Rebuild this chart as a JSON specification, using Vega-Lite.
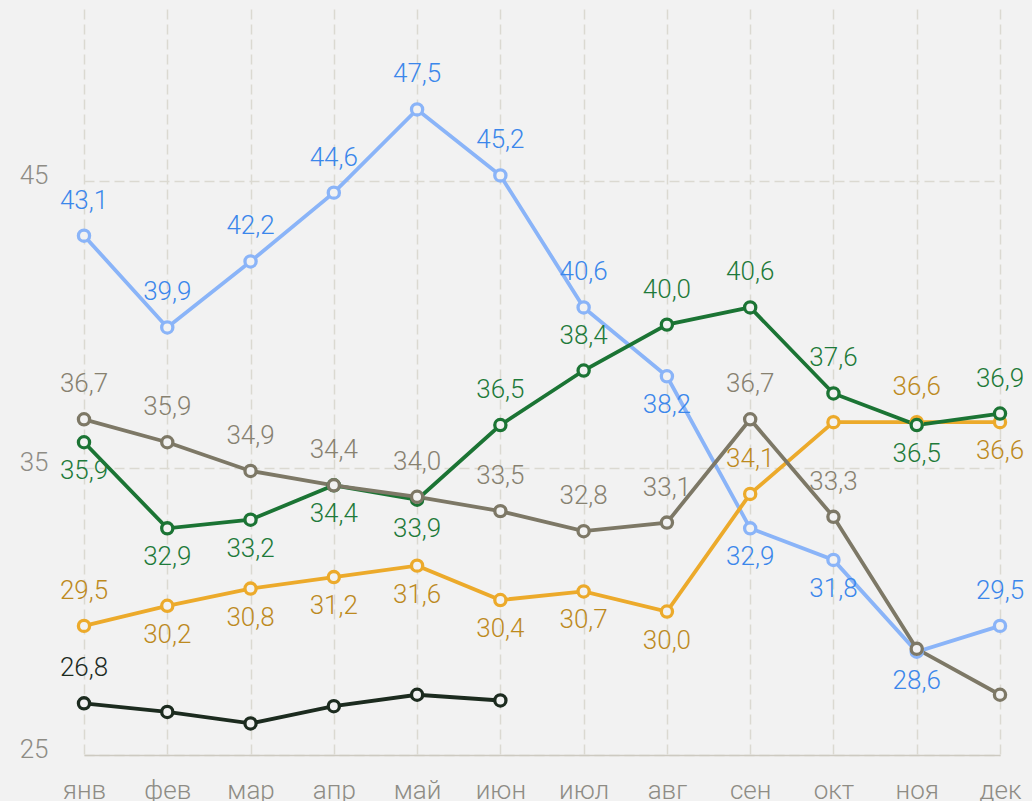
{
  "$schema": "https://vega.github.io/schema/vega-lite/v6.json",
  "width": 916,
  "height": 746,
  "autosize": {"type": "none"},
  "padding": {"left": 84, "top": 9, "right": 32, "bottom": 46},
  "background": "#f2f2f2",
  "config": {
    "view": {"stroke": null},
    "font": "Roboto",
    "locale": {"number": {"decimal": ",", "thousands": " ", "grouping": [3], "currency": ["", ""]}}
  },
  "data": {
    "values": [
      {"series": "Серия 1", "month": "янв", "value": 43.1, "labelSide": "above"},
      {"series": "Серия 1", "month": "фев", "value": 39.9, "labelSide": "above"},
      {"series": "Серия 1", "month": "мар", "value": 42.2, "labelSide": "above"},
      {"series": "Серия 1", "month": "апр", "value": 44.6, "labelSide": "above"},
      {"series": "Серия 1", "month": "май", "value": 47.5, "labelSide": "above"},
      {"series": "Серия 1", "month": "июн", "value": 45.2, "labelSide": "above"},
      {"series": "Серия 1", "month": "июл", "value": 40.6, "labelSide": "above"},
      {"series": "Серия 1", "month": "авг", "value": 38.2, "labelSide": "below"},
      {"series": "Серия 1", "month": "сен", "value": 32.9, "labelSide": "below"},
      {"series": "Серия 1", "month": "окт", "value": 31.8, "labelSide": "below"},
      {"series": "Серия 1", "month": "ноя", "value": 28.6, "labelSide": "below"},
      {"series": "Серия 1", "month": "дек", "value": 29.5, "labelSide": "above"},
      {"series": "Серия 2", "month": "янв", "value": 29.5, "labelSide": "above"},
      {"series": "Серия 2", "month": "фев", "value": 30.2, "labelSide": "below"},
      {"series": "Серия 2", "month": "мар", "value": 30.8, "labelSide": "below"},
      {"series": "Серия 2", "month": "апр", "value": 31.2, "labelSide": "below"},
      {"series": "Серия 2", "month": "май", "value": 31.6, "labelSide": "below"},
      {"series": "Серия 2", "month": "июн", "value": 30.4, "labelSide": "below"},
      {"series": "Серия 2", "month": "июл", "value": 30.7, "labelSide": "below"},
      {"series": "Серия 2", "month": "авг", "value": 30.0, "labelSide": "below"},
      {"series": "Серия 2", "month": "сен", "value": 34.1, "labelSide": "above"},
      {"series": "Серия 2", "month": "окт", "value": 36.6, "labelSide": "none"},
      {"series": "Серия 2", "month": "ноя", "value": 36.6, "labelSide": "above"},
      {"series": "Серия 2", "month": "дек", "value": 36.6, "labelSide": "below"},
      {"series": "Серия 3", "month": "янв", "value": 35.9, "labelSide": "below"},
      {"series": "Серия 3", "month": "фев", "value": 32.9, "labelSide": "below"},
      {"series": "Серия 3", "month": "мар", "value": 33.2, "labelSide": "below"},
      {"series": "Серия 3", "month": "апр", "value": 34.4, "labelSide": "below"},
      {"series": "Серия 3", "month": "май", "value": 33.9, "labelSide": "below"},
      {"series": "Серия 3", "month": "июн", "value": 36.5, "labelSide": "above"},
      {"series": "Серия 3", "month": "июл", "value": 38.4, "labelSide": "above"},
      {"series": "Серия 3", "month": "авг", "value": 40.0, "labelSide": "above"},
      {"series": "Серия 3", "month": "сен", "value": 40.6, "labelSide": "above"},
      {"series": "Серия 3", "month": "окт", "value": 37.6, "labelSide": "above"},
      {"series": "Серия 3", "month": "ноя", "value": 36.5, "labelSide": "below"},
      {"series": "Серия 3", "month": "дек", "value": 36.9, "labelSide": "above"},
      {"series": "Серия 4", "month": "янв", "value": 36.7, "labelSide": "above"},
      {"series": "Серия 4", "month": "фев", "value": 35.9, "labelSide": "above"},
      {"series": "Серия 4", "month": "мар", "value": 34.9, "labelSide": "above"},
      {"series": "Серия 4", "month": "апр", "value": 34.4, "labelSide": "above"},
      {"series": "Серия 4", "month": "май", "value": 34.0, "labelSide": "above"},
      {"series": "Серия 4", "month": "июн", "value": 33.5, "labelSide": "above"},
      {"series": "Серия 4", "month": "июл", "value": 32.8, "labelSide": "above"},
      {"series": "Серия 4", "month": "авг", "value": 33.1, "labelSide": "above"},
      {"series": "Серия 4", "month": "сен", "value": 36.7, "labelSide": "above"},
      {"series": "Серия 4", "month": "окт", "value": 33.3, "labelSide": "above"},
      {"series": "Серия 4", "month": "ноя", "value": 28.7, "labelSide": "none"},
      {"series": "Серия 4", "month": "дек", "value": 27.1, "labelSide": "none"},
      {"series": "Серия 5", "month": "янв", "value": 26.8, "labelSide": "above"},
      {"series": "Серия 5", "month": "фев", "value": 26.5, "labelSide": "none"},
      {"series": "Серия 5", "month": "мар", "value": 26.1, "labelSide": "none"},
      {"series": "Серия 5", "month": "апр", "value": 26.7, "labelSide": "none"},
      {"series": "Серия 5", "month": "май", "value": 27.1, "labelSide": "none"},
      {"series": "Серия 5", "month": "июн", "value": 26.9, "labelSide": "none"}
    ]
  },
  "encoding": {
    "x": {
      "field": "month",
      "type": "ordinal",
      "sort": ["янв", "фев", "мар", "апр", "май", "июн", "июл", "авг", "сен", "окт", "ноя", "дек"],
      "scale": {"type": "point", "padding": 0},
      "axis": {
        "title": null,
        "labelAngle": 0,
        "domain": true,
        "domainColor": "#cdcac1",
        "domainWidth": 1.5,
        "ticks": false,
        "grid": true,
        "gridColor": "#dbd9d1",
        "gridDash": [10, 5],
        "gridWidth": 1.5,
        "labelFont": "Roboto",
        "labelFontWeight": 300,
        "labelFontSize": 26,
        "labelColor": "#8e8c85",
        "labelBaseline": "alphabetic",
        "labelPadding": 43
      }
    },
    "y": {
      "field": "value",
      "type": "quantitative",
      "scale": {"domain": [25, 51], "nice": false, "zero": false},
      "axis": {
        "title": null,
        "values": [25, 35, 45],
        "domain": false,
        "ticks": false,
        "grid": true,
        "gridColor": "#dbd9d1",
        "gridDash": [10, 5],
        "gridWidth": 1.5,
        "labelFont": "Roboto",
        "labelFontWeight": 300,
        "labelFontSize": 26,
        "labelColor": "#8e8c85",
        "labelBaseline": "alphabetic",
        "labelOffset": 2,
        "labelPadding": 36
      }
    }
  },
  "layer": [
    {
      "mark": {"type": "line", "strokeWidth": 3.8},
      "encoding": {
        "color": {
          "field": "series",
          "type": "nominal",
          "scale": {"domain": ["Серия 1", "Серия 2", "Серия 3", "Серия 4", "Серия 5"], "range": ["#8ab4f8", "#ecaa2b", "#1b7434", "#7d7866", "#1c2b1f"]},
          "legend": null
        }
      }
    },
    {
      "mark": {"type": "point", "shape": "circle", "filled": false, "fill": "#f2f2f2", "fillOpacity": 1, "opacity": 1, "size": 125, "strokeWidth": 3.3},
      "encoding": {
        "stroke": {
          "field": "series",
          "type": "nominal",
          "scale": {"domain": ["Серия 1", "Серия 2", "Серия 3", "Серия 4", "Серия 5"], "range": ["#8ab4f8", "#ecaa2b", "#1b7434", "#7d7866", "#1c2b1f"]},
          "legend": null
        }
      }
    },
    {
      "transform": [{"filter": "datum.labelSide === 'above'"}],
      "mark": {"type": "text", "fontSize": 26, "font": "Roboto", "fontWeight": 300, "align": "center", "baseline": "middle", "dy": -35},
      "encoding": {
        "text": {"field": "value", "type": "quantitative", "format": ".1f"},
        "color": {
          "field": "series",
          "type": "nominal",
          "scale": {"domain": ["Серия 1", "Серия 2", "Серия 3", "Серия 4", "Серия 5"], "range": ["#3b87eb", "#bd8a1e", "#1e7a3a", "#878170", "#1c2b1f"]},
          "legend": null
        }
      }
    },
    {
      "transform": [{"filter": "datum.labelSide === 'below'"}],
      "mark": {"type": "text", "fontSize": 26, "font": "Roboto", "fontWeight": 300, "align": "center", "baseline": "middle", "dy": 29},
      "encoding": {
        "text": {"field": "value", "type": "quantitative", "format": ".1f"},
        "color": {
          "field": "series",
          "type": "nominal",
          "scale": {"domain": ["Серия 1", "Серия 2", "Серия 3", "Серия 4", "Серия 5"], "range": ["#3b87eb", "#bd8a1e", "#1e7a3a", "#878170", "#1c2b1f"]},
          "legend": null
        }
      }
    }
  ],
  "resolve": {"scale": {"color": "independent", "stroke": "independent"}}
}
